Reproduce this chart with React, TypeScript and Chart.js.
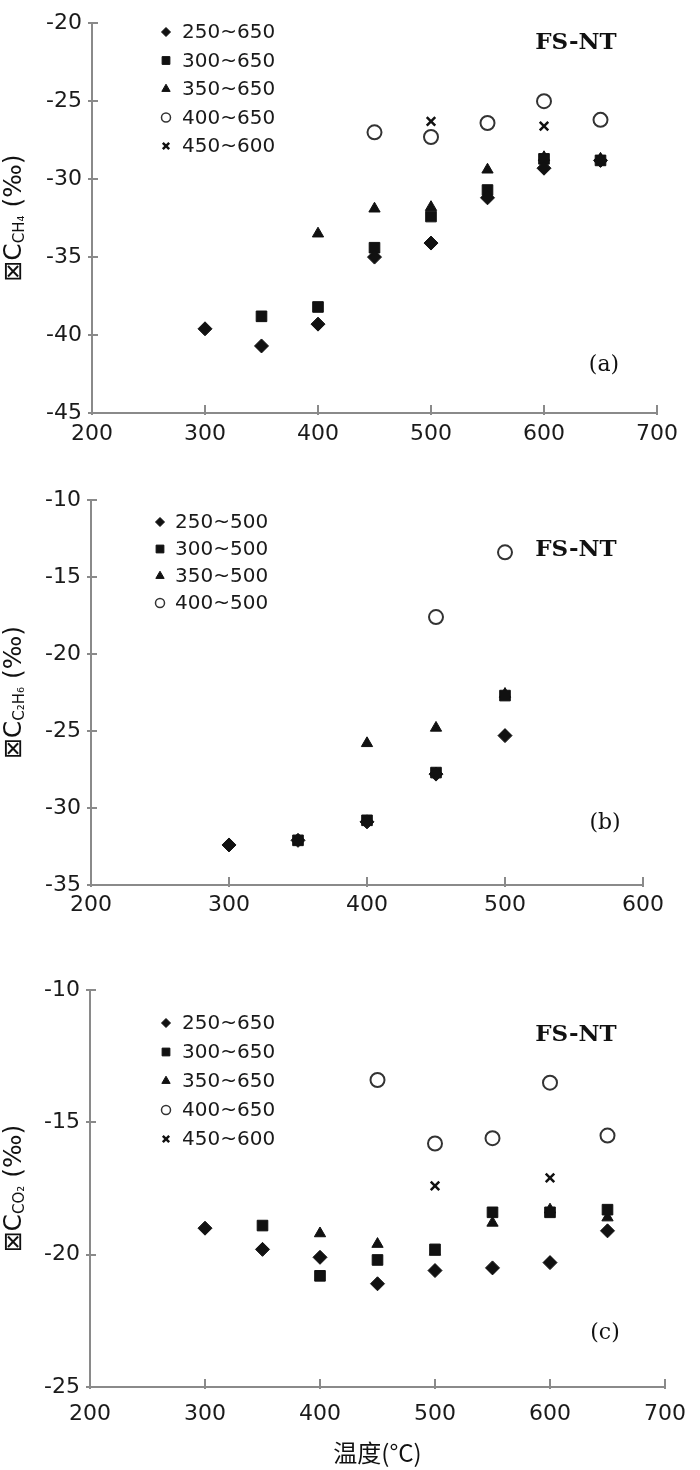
import React, { useEffect, useRef } from 'react';
import { Chart, registerables } from 'chart.js';
import { drawPoint } from 'chart.js/helpers';

Chart.register(...registerables);

// ---------- Panel (a) data ----------
const A_SERIES = ['250~650', '300~650', '350~650', '400~650', '450~600'];
const A_X_1 = [300, 350, 400, 450, 500, 550, 600, 650];
const A_Y_1 = [-39.6, -40.7, -39.3, -35.0, -34.1, -31.2, -29.3, -28.8];
const A_X_2 = [350, 400, 450, 500, 550, 600, 650];
const A_Y_2 = [-38.8, -38.2, -34.4, -32.4, -30.7, -28.7, -28.8];
const A_X_3 = [400, 450, 500, 550, 600, 650];
const A_Y_3 = [-33.5, -31.9, -31.8, -29.4, -28.6, -28.7];
const A_X_4 = [450, 500, 550, 600, 650];
const A_Y_4 = [-27.0, -27.3, -26.4, -25.0, -26.2];
const A_X_5 = [500, 600];
const A_Y_5 = [-26.3, -26.6];

// ---------- Panel (b) data ----------
const B_SERIES = ['250~500', '300~500', '350~500', '400~500'];
const B_X_1 = [300, 350, 400, 450, 500];
const B_Y_1 = [-32.4, -32.1, -30.9, -27.8, -25.3];
const B_X_2 = [350, 400, 450, 500];
const B_Y_2 = [-32.1, -30.8, -27.7, -22.7];
const B_X_3 = [400, 450, 500];
const B_Y_3 = [-25.8, -24.8, -22.6];
const B_X_4 = [450, 500];
const B_Y_4 = [-17.6, -13.4];

// ---------- Panel (c) data ----------
const C_SERIES = ['250~650', '300~650', '350~650', '400~650', '450~600'];
const C_X_1 = [300, 350, 400, 450, 500, 550, 600, 650];
const C_Y_1 = [-19.0, -19.8, -20.1, -21.1, -20.6, -20.5, -20.3, -19.1];
const C_X_2 = [350, 400, 450, 500, 550, 600, 650];
const C_Y_2 = [-18.9, -20.8, -20.2, -19.8, -18.4, -18.4, -18.3];
const C_X_3 = [400, 450, 500, 550, 600, 650];
const C_Y_3 = [-19.2, -19.6, -19.9, -18.8, -18.3, -18.6];
const C_X_4 = [450, 500, 550, 600, 650];
const C_Y_4 = [-13.4, -15.8, -15.6, -13.5, -15.5];
const C_X_5 = [500, 600];
const C_Y_5 = [-17.4, -17.1];

// axis ranges / labels
const A_Y_RANGE = [-45, -20];
const B_Y_RANGE = [-35, -10];
const C_Y_RANGE = [-25, -10];
const A_X_RANGE = [200, 700];
const B_X_RANGE = [200, 600];
const C_X_RANGE = [200, 700];
const SAMPLE_LABEL = 'FS-NT';
const X_TITLE = '温度(°C)';

// ---------- styles ----------
const AXIS_COLOR = '#8a8a8a';
const TEXT_COLOR = '#1a1a1a';
const TICK_FONT = { family: '"DejaVu Sans", sans-serif', size: 22 };

const MARK = [
  { pointStyle: 'rectRot', radius: 7, lr: 4.5, fill: '#111', stroke: '#111', bw: 1 },
  { pointStyle: 'rect', radius: 7.5, lr: 5.5, fill: '#111', stroke: '#111', bw: 1 },
  { pointStyle: 'triangle', radius: 6.5, lr: 4.8, fill: '#111', stroke: '#111', bw: 1 },
  { pointStyle: 'circle', radius: 7, lr: 4.5, fill: '#fff', stroke: '#333', bw: 2 },
  { pointStyle: 'crossRot', radius: 6, lr: 4.5, fill: '#111', stroke: '#111', bw: 2.5 },
];

const zip = (xs: number[], ys: number[]) => xs.map((x, i) => ({ x, y: ys[i] }));

const PANELS = [
  {
    top: 0, height: 470,
    pad: { left: 0, top: 15, right: 43, bottom: 0 }, yW: 92, xH: 57, xTickPad: 8,
    xRange: A_X_RANGE, yRange: A_Y_RANGE,
    names: A_SERIES,
    series: [zip(A_X_1, A_Y_1), zip(A_X_2, A_Y_2), zip(A_X_3, A_Y_3), zip(A_X_4, A_Y_4), zip(A_X_5, A_Y_5)],
    legend: { mx: 166, tx: 182, y0: 32, dy: 28.5 },
    fs: { x: 576, y: 43 }, tag: { t: '(a)', x: 604, y: 365 }, sub: 'CH₄', xTitle: false,
  },
  {
    top: 470, height: 490,
    pad: { left: 0, top: 30, right: 57, bottom: 0 }, yW: 91, xH: 75, xTickPad: 7,
    xRange: B_X_RANGE, yRange: B_Y_RANGE,
    names: B_SERIES,
    series: [zip(B_X_1, B_Y_1), zip(B_X_2, B_Y_2), zip(B_X_3, B_Y_3), zip(B_X_4, B_Y_4)],
    legend: { mx: 160, tx: 175, y0: 52, dy: 27 },
    fs: { x: 576, y: 80 }, tag: { t: '(b)', x: 605, y: 353 }, sub: 'C₂H₆', xTitle: false,
  },
  {
    top: 960, height: 510,
    pad: { left: 0, top: 30, right: 27, bottom: 0 }, yW: 90, xH: 83, xTickPad: 14,
    xRange: C_X_RANGE, yRange: C_Y_RANGE,
    names: C_SERIES,
    series: [zip(C_X_1, C_Y_1), zip(C_X_2, C_Y_2), zip(C_X_3, C_Y_3), zip(C_X_4, C_Y_4), zip(C_X_5, C_Y_5)],
    legend: { mx: 166, tx: 182, y0: 63, dy: 29 },
    fs: { x: 576, y: 75 }, tag: { t: '(c)', x: 605, y: 373 }, sub: 'CO₂', xTitle: true,
  },
];

function makeDecor(p: any) {
  return {
    id: 'decor',
    afterDraw(chart: any) {
      const ctx = chart.ctx;
      const xs = chart.scales.x;
      const ys = chart.scales.y;
      const ca = chart.chartArea;
      ctx.save();
      // inward tick marks
      ctx.strokeStyle = AXIS_COLOR;
      ctx.lineWidth = 2;
      xs.ticks.forEach((t: any) => {
        const px = Math.round(xs.getPixelForValue(t.value));
        ctx.beginPath();
        ctx.moveTo(px, ca.bottom + 2);
        ctx.lineTo(px, ca.bottom - 8);
        ctx.stroke();
      });
      ys.ticks.forEach((t: any) => {
        const py = Math.round(ys.getPixelForValue(t.value));
        ctx.beginPath();
        ctx.moveTo(ca.left - 4, py);
        ctx.lineTo(ca.left + 6, py);
        ctx.stroke();
      });
      // legend
      ctx.textBaseline = 'middle';
      ctx.textAlign = 'left';
      p.names.forEach((name: string, i: number) => {
        const m = MARK[i];
        const y = p.legend.y0 + i * p.legend.dy;
        ctx.fillStyle = m.fill;
        ctx.strokeStyle = m.stroke;
        ctx.lineWidth = m.pointStyle === 'circle' ? 1.5 : m.bw;
        drawPoint(ctx, { pointStyle: m.pointStyle, radius: m.lr, borderWidth: ctx.lineWidth, rotation: 0 }, p.legend.mx, y);
        ctx.fillStyle = TEXT_COLOR;
        ctx.font = '20px "DejaVu Sans", sans-serif';
        ctx.fillText(name, p.legend.tx, y + 1);
      });
      // sample label
      ctx.fillStyle = '#111';
      ctx.textAlign = 'center';
      ctx.font = 'bold 23px "DejaVu Serif", serif';
      ctx.fillText(SAMPLE_LABEL, p.fs.x, p.fs.y);
      ctx.font = '22px "DejaVu Serif", serif';
      ctx.fillText(p.tag.t, p.tag.x, p.tag.y);
      // y-axis title
      ctx.translate(14, (ca.top + ca.bottom) / 2);
      ctx.rotate(-Math.PI / 2);
      const big = '25px "DejaVu Sans", sans-serif';
      const small = '15px "DejaVu Sans", sans-serif';
      ctx.font = big;
      const w1 = ctx.measureText('⊠C').width;
      const w3 = ctx.measureText(' (‰)').width;
      ctx.font = small;
      const w2 = ctx.measureText(p.sub).width;
      let x = -(w1 + w2 + w3) / 2;
      ctx.textAlign = 'left';
      ctx.fillStyle = '#111';
      ctx.font = big;
      ctx.fillText('⊠C', x, 0);
      x += w1;
      ctx.font = small;
      ctx.fillText(p.sub, x, 6);
      x += w2;
      ctx.font = big;
      ctx.fillText(' (‰)', x, 0);
      ctx.restore();
    },
  };
}

function buildChart(canvas: HTMLCanvasElement, p: any) {
  const datasets = p.series.map((data: any, i: number) => ({
    label: p.names[i],
    data,
    pointStyle: MARK[i].pointStyle,
    pointRadius: MARK[i].radius,
    pointHoverRadius: MARK[i].radius,
    backgroundColor: MARK[i].fill,
    borderColor: MARK[i].stroke,
    borderWidth: MARK[i].bw,
    showLine: false,
  }));
  return new Chart(canvas, {
    type: 'scatter',
    data: { datasets },
    options: {
      animation: false,
      responsive: false,
      devicePixelRatio: 1,
      layout: { padding: p.pad },
      plugins: { legend: { display: false }, tooltip: { enabled: false } },
      scales: {
        x: {
          type: 'linear',
          min: p.xRange[0], max: p.xRange[1],
          grid: { display: false, drawTicks: false },
          border: { display: true, color: AXIS_COLOR, width: 2 },
          ticks: { stepSize: 100, color: TEXT_COLOR, font: TICK_FONT, padding: p.xTickPad, maxRotation: 0 },
          title: {
            display: p.xTitle, text: X_TITLE, color: '#111',
            font: { family: '"Noto Sans CJK SC", sans-serif', size: 24 },
            padding: { top: 0, bottom: 3 },
          },
          afterFit: (s: any) => { s.height = p.xH; },
        },
        y: {
          type: 'linear',
          min: p.yRange[0], max: p.yRange[1],
          grid: { display: false, drawTicks: false },
          border: { display: true, color: AXIS_COLOR, width: 2 },
          ticks: { stepSize: 5, color: TEXT_COLOR, font: TICK_FONT, padding: 10 },
          afterFit: (s: any) => { s.width = p.yW; },
        },
      },
    },
    plugins: [makeDecor(p)],
  } as any);
}

export default function App() {
  const refs = useRef<(HTMLCanvasElement | null)[]>([]);
  useEffect(() => {
    const charts = PANELS.map((p, i) => buildChart(refs.current[i] as HTMLCanvasElement, p));
    return () => charts.forEach((c) => c.destroy());
  }, []);
  return (
    <div style={{ position: 'absolute', left: 0, top: 0, width: 700, height: 1470, background: '#fff' }}>
      {PANELS.map((p, i) => (
        <canvas
          key={i}
          ref={(el) => { refs.current[i] = el; }}
          width={700}
          height={p.height}
          style={{ position: 'absolute', left: 0, top: p.top, width: 700, height: p.height }}
        />
      ))}
    </div>
  );
}
